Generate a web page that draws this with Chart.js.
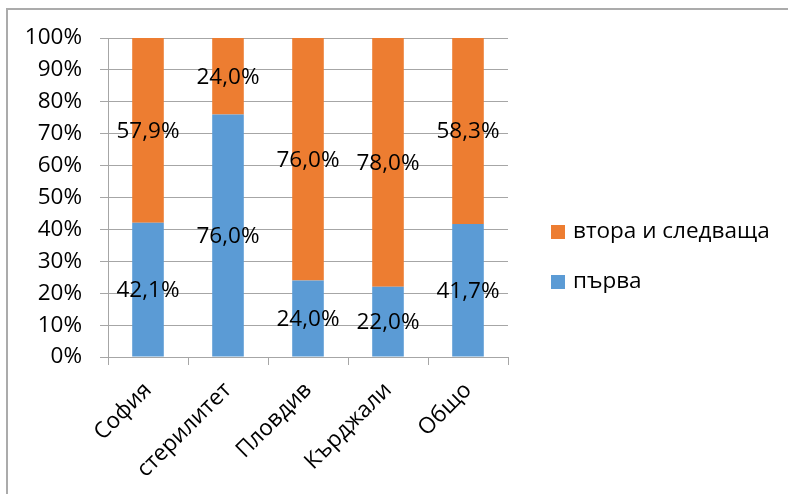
<!DOCTYPE html>
<html>
<head>
<meta charset="utf-8">
<script src="https://cdn.jsdelivr.net/npm/chart.js@4/dist/chart.umd.min.js"></script>
<style>
  html, body { margin: 0; padding: 0; background: #fff; overflow: hidden; }
  #frame { position: absolute; left: 6px; top: 8px; width: 900px; height: 600px;
           border-left: 2px solid #ababab; border-top: 2px solid #ababab; }
  #wrap { position: absolute; left: 0; top: 0; width: 788px; height: 494px; }
</style>
</head>
<body>
<div id="frame"></div>
<div id="wrap"><canvas id="c" width="788" height="494"></canvas></div>
<script>
const categories = ['София', 'стерилитет', 'Пловдив', 'Кърджали', 'Общо'];
const seriesNames = ['първа', 'втора и следваща'];
const firstValues = [42.1, 76.0, 24.0, 22.0, 41.7];
const nextValues = [57.9, 24.0, 76.0, 78.0, 58.3];
const yTicks = [0, 10, 20, 30, 40, 50, 60, 70, 80, 90, 100];

const FONT = '"Open Sans", "DejaVu Sans", sans-serif';
const FS = 22.5;
const fmt = v => v.toFixed(1).replace('.', ',') + '%';

// value labels centred in each stacked segment
const segmentLabels = {
  id: 'segmentLabels',
  afterDatasetsDraw(chart) {
    const ctx = chart.ctx;
    ctx.save();
    ctx.font = FS + 'px ' + FONT;
    ctx.fillStyle = '#000';
    ctx.textAlign = 'center';
    ctx.textBaseline = 'middle';
    chart.data.datasets.forEach((ds, di) => {
      const meta = chart.getDatasetMeta(di);
      meta.data.forEach((bar, i) => {
        const p = bar.getProps(['x', 'y', 'base'], true);
        ctx.fillText(fmt(ds.data[i]), p.x, (p.y + p.base) / 2 + 1);
      });
    });
    ctx.restore();
  }
};

// legend on the right, last series on top
const sideLegend = {
  id: 'sideLegend',
  afterDraw(chart) {
    const ctx = chart.ctx;
    const a = chart.chartArea;
    ctx.save();
    ctx.font = FS + 'px ' + FONT;
    ctx.textBaseline = 'middle';
    ctx.textAlign = 'left';
    const items = chart.data.datasets.slice().reverse();
    items.forEach((ds, k) => {
      const cy = a.top + 194 + k * 50;
      const bx = a.right + 43;
      ctx.fillStyle = ds.backgroundColor;
      ctx.fillRect(bx, cy - 7, 14, 14);
      ctx.fillStyle = '#000';
      ctx.fillText(ds.label, bx + 22, cy);
    });
    ctx.restore();
  }
};

new Chart(document.getElementById('c'), {
  type: 'bar',
  data: {
    labels: categories,
    datasets: [
      { label: seriesNames[0], data: firstValues, backgroundColor: '#5B9BD5', categoryPercentage: 1, barPercentage: 0.395 },
      { label: seriesNames[1], data: nextValues, backgroundColor: '#ED7D31', categoryPercentage: 1, barPercentage: 0.395 }
    ]
  },
  options: {
    responsive: false,
    animation: false,
    devicePixelRatio: 1,
    layout: { padding: { top: 38, right: 280, bottom: 0, left: 0 } },
    plugins: { legend: { display: false }, tooltip: { enabled: false } },
    scales: {
      x: {
        stacked: true,
        grid: { offset: true, drawOnChartArea: false, drawTicks: true, tickLength: 8, color: '#a6a6a6', lineWidth: 1 },
        border: { display: true, color: '#a6a6a6', width: 1 },
        ticks: { color: '#000', font: { family: FONT, size: FS }, minRotation: 45, maxRotation: 45, padding: 12 },
        afterFit(s) { s.height = 137; }
      },
      y: {
        stacked: true,
        min: 0, max: 100,
        afterBuildTicks(s) { s.ticks = yTicks.map(v => ({ value: v })); },
        grid: { color: '#a6a6a6', lineWidth: 1, drawTicks: true, tickLength: 8 },
        border: { display: true, color: '#a6a6a6', width: 1 },
        ticks: { color: '#000', font: { family: FONT, size: FS }, padding: 18, callback: v => v + '%' },
        afterFit(s) { s.width = 108; }
      }
    }
  },
  plugins: [segmentLabels, sideLegend]
});
</script>
</body>
</html>
